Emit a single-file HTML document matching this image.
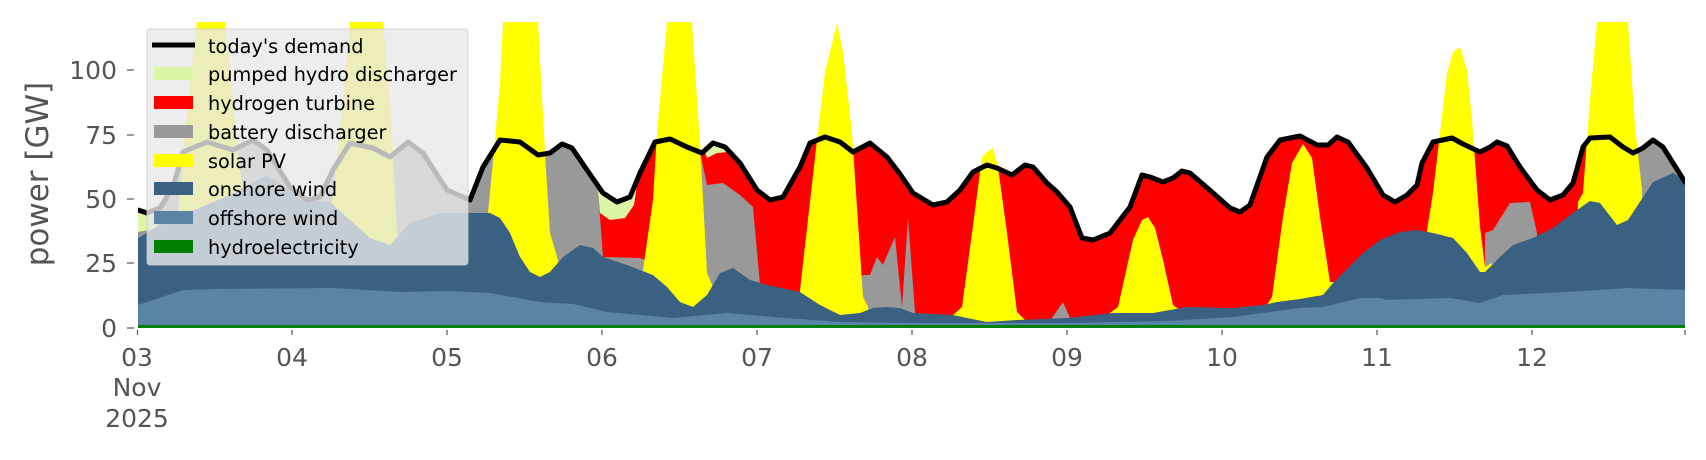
<!DOCTYPE html>
<html><head><meta charset="utf-8"><style>
html,body{margin:0;padding:0;background:#fff;}
svg{display:block;font-family:"DejaVu Sans","Liberation Sans",sans-serif;}
</style></head><body>
<svg width="1706" height="460" viewBox="0 0 1706 460" xmlns="http://www.w3.org/2000/svg">
<defs><clipPath id="pc"><rect x="138" y="22" width="1547" height="306"/></clipPath></defs>
<g clip-path="url(#pc)">
<polygon fill="#ff0000" points="138,210 147,213 160,208 173,187 183,152 207,142 233,150 253,140 267,150 290,187 307,200 320,197 333,170 350,143 373,148 390,157 408,142 423,153 447,190 470,200 483,167 500,140 520,142 538,155 550,153 562,144 572,148 587,170 603,193 617,202 630,197 640,173 655,142 670,139 687,147 702,153 713,143 725,147 740,163 757,190 770,200 783,197 800,167 810,143 825,137 840,142 853,152 870,143 887,157 900,174 913,193 933,205 947,202 960,190 973,172 987,165 997,168 1012,175 1025,165 1033,167 1047,183 1057,192 1070,207 1082,238 1093,240 1110,233 1130,207 1142,175 1150,177 1163,182 1173,178 1182,171 1190,173 1212,192 1230,208 1240,212 1250,205 1267,157 1280,140 1300,136 1317,145 1328,145 1337,137 1348,142 1367,168 1383,195 1395,202 1407,195 1417,185 1422,163 1433,142 1452,138 1463,144 1480,152 1490,147 1497,142 1507,146 1520,167 1537,190 1550,200 1563,195 1573,183 1583,147 1590,138 1610,137 1623,147 1633,153 1643,148 1653,140 1663,147 1673,163 1685,182 1685,328 138,328"/>
<g fill="#999999">
<polygon points="138,210 147,213 160,208 173,187 183,152 207,142 233,150 253,140 267,150 290,187 307,200 320,197 333,170 350,143 373,148 390,157 408,142 423,153 447,190 470,200 483,167 500,140 520,142 538,155 550,153 562,144 572,148 587,170 598,190 603,257 603,328 138,328"/>
<polygon points="603,257 640,258 650,262 650,328 603,328"/>
<polygon points="700,152 707,185 723,183 740,195 753,207 760,285 760,328 700,328"/>
<polygon points="860,278 863,275 870,275 877,257 883,265 895,237 902,307 908,218 915,312 920,328 860,328"/>
<polygon points="1052,318 1063,302 1070,318 1070,328 1052,328"/>
<polygon points="1485,233 1493,230 1510,203 1530,202 1537,233 1537,328 1485,328"/>
<polygon points="1623,147 1633,153 1643,148 1653,140 1663,147 1673,163 1685,182 1685,328 1623,328"/>
</g>
<g fill="#dcf6a6">
<polygon points="138,210 147,213 155,211 158,228 138,232"/>
<polygon points="598,191 603,193 617,202 630,197 637,185 634,205 625,218 610,220 600,213"/>
<polygon points="705,152 713,143 725,147 730,152 717,153 707,158"/>
</g>
<g fill="#ffff00">
<polygon points="175,328 178,215 188,100 197,22 225,22 233,100 240,170 248,220 255,328"/>
<polygon points="330,328 332,203 343,100 350,22 383,22 390,100 397,230 400,328"/>
<polygon points="485,328 488,213 495,140 500,83 503,22 538,22 545,153 550,233 558,260 565,328"/>
<polygon points="640,328 643,270 653,200 657,133 667,22 692,22 697,100 700,143 707,273 713,287 716,328"/>
<polygon points="797,328 800,290 817,140 825,72 837,23 843,52 852,133 863,297 868,307 870,328"/>
<polygon points="950,328 953,315 962,307 972,233 982,157 987,152 993,148 998,167 1007,233 1017,312 1025,320 1027,328"/>
<polygon points="1108,328 1110,313 1118,307 1133,240 1142,220 1148,217 1155,228 1163,260 1173,305 1180,310 1182,328"/>
<polygon points="1265,328 1267,305 1272,297 1283,217 1292,163 1303,144 1312,158 1320,217 1330,282 1337,282 1340,328"/>
<polygon points="1425,328 1427,230 1433,193 1447,73 1453,52 1460,47 1467,70 1472,120 1480,227 1485,267 1492,263 1495,328"/>
<polygon points="1575,328 1578,202 1583,193 1590,100 1597,22 1628,22 1635,127 1642,190 1645,328"/>
</g>
<polygon fill="#3b6182" points="138,238 160,225 187,213 230,195 267,175 290,190 300,200 330,202 350,220 370,238 390,245 410,223 440,213 468,213 480,213 490,213 500,218 510,233 520,257 530,272 540,277 550,272 563,257 580,245 593,248 603,257 627,265 653,275 667,287 680,302 693,307 707,295 720,273 733,268 750,280 767,285 800,292 820,305 840,315 860,313 873,308 887,307 900,308 913,313 953,315 967,318 987,322 1017,320 1067,318 1113,313 1153,313 1187,307 1233,308 1263,305 1277,302 1300,299 1323,295 1333,283 1363,253 1380,240 1400,232 1417,230 1433,233 1453,238 1467,253 1480,272 1485,272 1500,257 1513,245 1533,238 1553,228 1577,210 1590,201 1600,203 1617,225 1628,220 1653,182 1673,173 1685,180 1685,328 138,328"/>
<polygon fill="#5b83a6" points="138,305 183,290 217,289 333,288 400,292 450,291 490,293 540,302 573,304 607,312 673,318 727,313 773,317 840,322 920,323 1067,323 1167,321 1233,317 1300,308 1323,307 1360,298 1380,298 1387,300 1450,298 1480,303 1503,295 1567,292 1600,290 1627,288 1685,290 1685,328 138,328"/>
<rect x="138" y="325" width="1547" height="3" fill="#008000"/>
<polyline fill="none" stroke="#000" stroke-width="5" stroke-linejoin="round" stroke-linecap="round" points="138,210 147,213 160,208 173,187 183,152 207,142 233,150 253,140 267,150 290,187 307,200 320,197 333,170 350,143 373,148 390,157 408,142 423,153 447,190 470,200 483,167 500,140 520,142 538,155 550,153 562,144 572,148 587,170 603,193 617,202 630,197 640,173 655,142 670,139 687,147 702,153 713,143 725,147 740,163 757,190 770,200 783,197 800,167 810,143 825,137 840,142 853,152 870,143 887,157 900,174 913,193 933,205 947,202 960,190 973,172 987,165 997,168 1012,175 1025,165 1033,167 1047,183 1057,192 1070,207 1082,238 1093,240 1110,233 1130,207 1142,175 1150,177 1163,182 1173,178 1182,171 1190,173 1212,192 1230,208 1240,212 1250,205 1267,157 1280,140 1300,136 1317,145 1328,145 1337,137 1348,142 1367,168 1383,195 1395,202 1407,195 1417,185 1422,163 1433,142 1452,138 1463,144 1480,152 1490,147 1497,142 1507,146 1520,167 1537,190 1550,200 1563,195 1573,183 1583,147 1590,138 1610,137 1623,147 1633,153 1643,148 1653,140 1663,147 1673,163 1685,182"/>
</g>
<g stroke="#555" stroke-width="1.2">
<line x1="127" y1="70" x2="134" y2="70"/><line x1="127" y1="135" x2="134" y2="135"/><line x1="127" y1="199" x2="134" y2="199"/><line x1="127" y1="263" x2="134" y2="263"/><line x1="127" y1="328" x2="134" y2="328"/>
<line x1="137.5" y1="330" x2="137.5" y2="335"/><line x1="292" y1="330" x2="292" y2="335"/><line x1="447" y1="330" x2="447" y2="335"/><line x1="602" y1="330" x2="602" y2="335"/><line x1="757" y1="330" x2="757" y2="335"/><line x1="912" y1="330" x2="912" y2="335"/><line x1="1067" y1="330" x2="1067" y2="335"/><line x1="1222" y1="330" x2="1222" y2="335"/><line x1="1377" y1="330" x2="1377" y2="335"/><line x1="1532" y1="330" x2="1532" y2="335"/><line x1="1685" y1="330" x2="1685" y2="335"/>
</g>
<g fill="#555" font-size="25" text-anchor="end">
<text x="117" y="79">100</text><text x="117" y="144">75</text><text x="117" y="208">50</text><text x="117" y="272">25</text><text x="117" y="337">0</text>
</g>
<g fill="#555" font-size="25" text-anchor="middle">
<text x="137" y="366">03</text><text x="137" y="396">Nov</text><text x="137" y="427">2025</text>
<text x="292" y="366">04</text><text x="447" y="366">05</text><text x="602" y="366">06</text><text x="757" y="366">07</text><text x="912" y="366">08</text><text x="1067" y="366">09</text><text x="1222" y="366">10</text><text x="1377" y="366">11</text><text x="1532" y="366">12</text>
</g>
<text transform="translate(48,174) rotate(-90)" fill="#555" font-size="31" text-anchor="middle">power [GW]</text>
<rect x="147" y="29" width="321" height="236" rx="3" fill="rgba(232,232,232,0.8)" stroke="rgba(204,204,204,0.8)" stroke-width="1"/>
<line x1="152" y1="45" x2="195" y2="45" stroke="#000" stroke-width="5"/>
<rect x="154" y="67" width="39" height="13" fill="#dcf6a6"/>
<rect x="154" y="96" width="39" height="13" fill="#ff0000"/>
<rect x="154" y="125" width="39" height="13" fill="#999999"/>
<rect x="154" y="154" width="39" height="13" fill="#ffff00"/>
<rect x="154" y="182" width="39" height="13" fill="#3b6182"/>
<rect x="154" y="211" width="39" height="13" fill="#5b83a6"/>
<rect x="154" y="240" width="39" height="13" fill="#008000"/>
<g fill="#000" font-size="19.3">
<text x="208" y="53">today's demand</text>
<text x="208" y="81">pumped hydro discharger</text>
<text x="208" y="110">hydrogen turbine</text>
<text x="208" y="139">battery discharger</text>
<text x="208" y="168">solar PV</text>
<text x="208" y="196">onshore wind</text>
<text x="208" y="225">offshore wind</text>
<text x="208" y="254">hydroelectricity</text>
</g>
</svg>
</body></html>
